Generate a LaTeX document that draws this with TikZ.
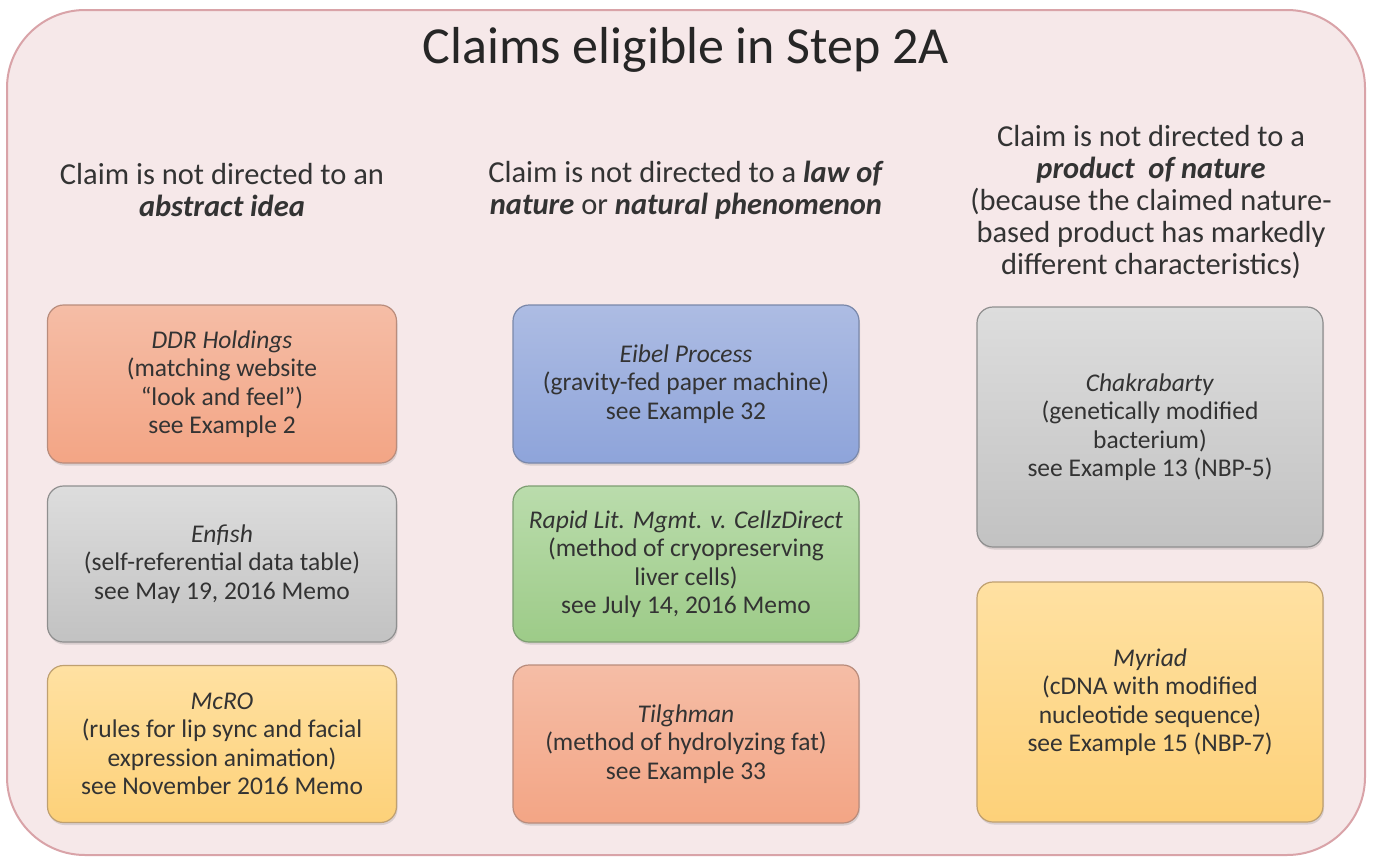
\documentclass[tikz,border=0pt]{standalone}
\usepackage{fontspec}
\setmainfont{Carlito}
\usetikzlibrary{shadows}
\definecolor{outerfill}{HTML}{F6E8E9}
\definecolor{outerdraw}{HTML}{D9A3A8}
\definecolor{txt}{HTML}{333333}
\definecolor{salT}{HTML}{F5BDA6}\definecolor{salB}{HTML}{F3A585}\definecolor{salD}{HTML}{B98C7C}
\definecolor{bluT}{HTML}{ADBCE3}\definecolor{bluB}{HTML}{8EA4DA}\definecolor{bluD}{HTML}{7A88AA}
\definecolor{gryT}{HTML}{DDDDDD}\definecolor{gryB}{HTML}{C2C2C2}\definecolor{gryD}{HTML}{8F8F8F}
\definecolor{grnT}{HTML}{BADCAC}\definecolor{grnB}{HTML}{9DCB88}\definecolor{grnD}{HTML}{7E9E72}
\definecolor{ylwT}{HTML}{FFE1A2}\definecolor{ylwB}{HTML}{FDD179}\definecolor{ylwD}{HTML}{BFA070}
\tikzset{
  box/.style={rounded corners=16pt, line width=1.2pt, align=center, text=txt,
     font=\fontsize{25.5}{28.5}\selectfont, inner sep=0pt,
     drop shadow={opacity=0.25, shadow xshift=1pt, shadow yshift=-2.5pt}},
  salbox/.style={box, top color=salT, bottom color=salB, draw=salD},
  blubox/.style={box, top color=bluT, bottom color=bluB, draw=bluD},
  grybox/.style={box, top color=gryT, bottom color=gryB, draw=gryD},
  grnbox/.style={box, top color=grnT, bottom color=grnB, draw=grnD},
  ylwbox/.style={box, top color=ylwT, bottom color=ylwB, draw=ylwD},
  head/.style={align=center, text=txt, font=\fontsize{30.5}{32}\selectfont, inner sep=0pt},
}
\begin{document}
\begin{tikzpicture}[x=1pt,y=-1pt]
\useasboundingbox (0,0) rectangle (1373,862);
\fill[white] (0,0) rectangle (1373,862);
\draw[fill=outerfill, draw=outerdraw, line width=2pt, rounded corners=78pt] (7,10) rectangle (1365,855);

\node[inner sep=0pt, text=black!85, font=\fontsize{52}{60}\selectfont] (title) at (686,50) {Claims eligible in Step 2A};

\node[head] (h1) at (222,190) {Claim is not directed to an\\\textbf{\textit{abstract idea}}};
\node[head] (h2) at (686,190) {Claim is not directed to a \textbf{\textit{law of}}\\\textbf{\textit{nature}} or \textbf{\textit{natural phenomenon}}};
\node[head] (h3) at (1151,202) {Claim is not directed to a\\\textbf{\textit{product~ of nature}}\\(because the claimed nature-\\based product has markedly\\different characteristics)};

\node[salbox, minimum width=349pt, minimum height=158pt] (ddr) at (222,384)
  {\textit{DDR Holdings}\\(matching website\\“look and feel”)\\see Example 2};
\node[grybox, minimum width=349pt, minimum height=156pt] (enf) at (222,564)
  {\textit{Enfish}\\(self-referential data table)\\see May 19, 2016 Memo};
\node[ylwbox, minimum width=349pt, minimum height=157pt] (mcro) at (222,744)
  {\textit{McRO}\\(rules for lip sync and facial\\expression animation)\\see November 2016 Memo};

\node[blubox, minimum width=346pt, minimum height=158pt] (eib) at (686,384)
  {\textit{Eibel Process}\\(gravity-fed paper machine)\\see Example 32};
\node[grnbox, minimum width=346pt, minimum height=156pt] (rap) at (686,564)
  {\textit{Rapid Lit. Mgmt. v. CellzDirect}\\(method of cryopreserving\\liver cells)\\see July 14, 2016 Memo};
\node[salbox, minimum width=346pt, minimum height=158pt] (til) at (686,744)
  {\textit{Tilghman}\\(method of hydrolyzing fat)\\see Example 33};

\node[grybox, minimum width=346pt, minimum height=240pt] (chak) at (1150,427)
  {\textit{Chakrabarty}\\(genetically modified\\bacterium)\\see Example 13 (NBP-5)};
\node[ylwbox, minimum width=346pt, minimum height=240pt] (myr) at (1150,702)
  {\textit{Myriad}\\(cDNA with modified\\nucleotide sequence)\\see Example 15 (NBP-7)};
\end{tikzpicture}
\end{document}
